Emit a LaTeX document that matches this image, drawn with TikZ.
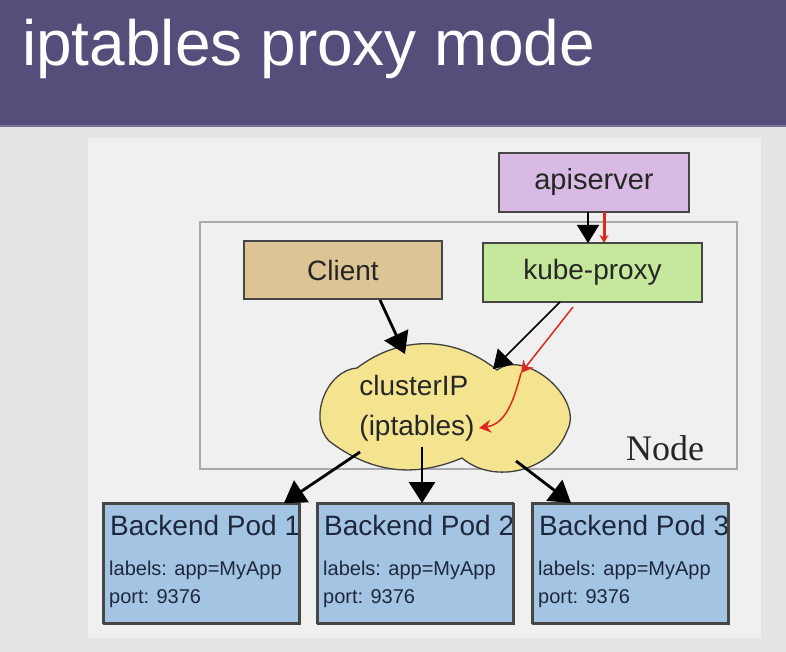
\documentclass[tikz,border=0pt]{standalone}
\usepackage{fontspec}
\setmainfont{Liberation Sans}
\newfontfamily\nodeserif{Liberation Serif}
\usetikzlibrary{arrows.meta}
\definecolor{titlebar}{RGB}{83,78,122}
\definecolor{titleedge}{RGB}{120,116,150}
\definecolor{pagebg}{RGB}{228,228,228}
\definecolor{panelbg}{RGB}{240,240,240}
\definecolor{apifill}{RGB}{216,186,228}
\definecolor{clientfill}{RGB}{220,196,148}
\definecolor{proxyfill}{RGB}{198,232,156}
\definecolor{cloudfill}{RGB}{244,228,144}
\definecolor{podfill}{RGB}{164,196,228}
\definecolor{boxedge}{RGB}{70,70,70}
\definecolor{nodeedge}{RGB}{170,170,170}
\definecolor{podtext}{RGB}{30,40,60}
\definecolor{annot}{RGB}{220,40,30}
\tikzset{
  boxshape/.style={draw=boxedge, line width=1.5pt, inner sep=0pt},
  bigtext/.style={font=\fontsize{28}{30}\selectfont, text=black!85},
  podbox/.style={boxshape, fill=podfill, anchor=north west},
  conn/.style={draw=black, line width=2.8pt, -{Triangle[width=26pt,length=21pt]}},
  thinconn/.style={draw=black, line width=1.6pt, -{Triangle[width=22pt,length=18pt]}},
  redmark/.style={draw=annot, line width=1.5pt, -{Stealth[width=13pt,length=12pt]}},
}
\begin{document}
\begin{tikzpicture}[x=1pt,y=-1pt]
\useasboundingbox (0,0) rectangle (786,652);
% backgrounds
\fill[pagebg] (0,0) rectangle (786,652);
\fill[titlebar] (0,0) rectangle (786,125);
\fill[titleedge] (0,125) rectangle (786,127);
\fill[panelbg] (88,138) rectangle (761,638);
\node[anchor=base west, inner sep=0pt, text=white, font=\fontsize{64}{66}\selectfont] (title) at (22,66) {iptables proxy mode};

% Node rectangle
\draw[nodeedge, line width=1.5pt] (200,222) rectangle (737,469);
\node[anchor=base west, inner sep=0pt, font=\nodeserif\fontsize{36}{38}\selectfont, text=black!85] (nodelabel) at (626,460) {Node};

% boxes
\node[boxshape, fill=apifill, minimum width=190pt, minimum height=59pt, bigtext, font=\fontsize{29}{31}\selectfont] (api) at (594,182.5) {apiserver};
\node[boxshape, fill=clientfill, minimum width=198pt, minimum height=58pt, bigtext] (client) at (343,270) {Client};
\node[boxshape, fill=proxyfill, minimum width=219pt, minimum height=59pt, bigtext] (proxy) at (592.5,272.5) {kube-proxy};

% cloud
\coordinate (cA) at (329,441);
\coordinate (cB) at (357,368);
\coordinate (cC) at (497,370);
\coordinate (cD) at (567,431);
\coordinate (cE) at (462,458);
\filldraw[fill=cloudfill, draw=black!75, line width=1.3pt]
  (cA) to[bend left=65] (cB)
       to[bend left=38] (cC)
       to[bend left=78] (cD)
       to[bend left=55] (cE)
       to[bend left=30] (cA) -- cycle;
\node[bigtext, align=left, inner sep=0pt, font=\fontsize{28}{40}\selectfont] (cloud) at (417,408) {clusterIP\\(iptables)};

% pods
\foreach \i/\x in {1/103,2/317,3/532}{
  \node[podbox, minimum width=196pt, minimum height=120pt] (pod\i) at (\x,503) {};
  \begin{scope}
    \clip (\x,503) rectangle ++(196,120);
    \node[anchor=base west, inner sep=0pt, font=\fontsize{28}{30}\selectfont, text=podtext] (podtitle\i) at (\x+7,535) {Backend Pod \i};
    \node[anchor=base west, inner sep=0pt, font=\fontsize{20}{22}\selectfont, text=podtext] (podlab\i) at (\x+6,575) {labels: app=MyApp};
    \node[anchor=base west, inner sep=0pt, font=\fontsize{20}{22}\selectfont, text=podtext] (podport\i) at (\x+6,603) {port: 9376};
  \end{scope}
  \draw[boxedge, line width=1.5pt] (\x,503) rectangle ++(196,120);
}

% connector endpoints
\coordinate (apiA) at (588,212);
\coordinate (proxyA) at (588,243);
\coordinate (apiR) at (604,212);
\coordinate (proxyR) at (604,243);
\coordinate (clientOut) at (380,300);
\coordinate (cloudIn1) at (405,354);
\coordinate (proxyOut) at (560,302);
\coordinate (cloudIn2) at (493,369);
\coordinate (redStart) at (573,307);
\coordinate (redMid) at (521,373);
\coordinate (redEnd) at (479,428);
\coordinate (cOut1) at (360,452);
\coordinate (cOut2) at (422,447);
\coordinate (cOut3) at (516,461);
\coordinate (pin1) at (284,503);
\coordinate (pin2) at (422,503);
\coordinate (pin3) at (571,503);

% connectors
\draw[thinconn] (apiA) -- (proxyA);
\draw[annot, line width=3pt, -{Stealth[width=9pt,length=8pt]}] (apiR) -- (proxyR);
\draw[conn] (clientOut) -- (cloudIn1);
\draw[thinconn] (proxyOut) -- (cloudIn2);
\draw[redmark] (redStart) -- (redMid);
\draw[redmark] (redMid) .. controls (514,400) and (506,424) .. (redEnd);
\draw[conn] (cOut1) -- (pin1);
\draw[conn] (cOut2) -- (pin2);
\draw[conn] (cOut3) -- (pin3);
\end{tikzpicture}
\end{document}
